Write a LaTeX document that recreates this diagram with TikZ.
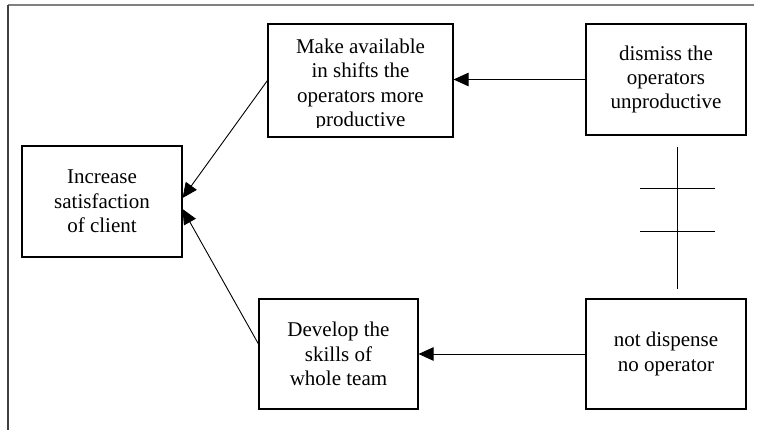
\documentclass[tikz,border=0pt]{standalone}
\usepackage{fontspec}
\setmainfont{Liberation Serif}
\usetikzlibrary{arrows.meta}
\begin{document}
\begin{tikzpicture}[x=1pt,y=-1pt,
  box/.style={draw=black,line width=1.1pt,rectangle,inner sep=0pt,
    align=center,font=\fontsize{21}{24.4}\selectfont},
  link/.style={draw=black,line width=0.9pt,
    -{Triangle[length=15pt,width=13.5pt]}},
  frameline/.style={line width=1.6pt},
  barline/.style={draw=black,line width=1pt}]
\useasboundingbox (0,0) rectangle (757,430);

% outer frame (top and left edges only)
\draw[frameline,draw=black!50] (8,5) -- (754,5);
\draw[frameline,draw=black!75] (8,5) -- (8,430);

% boxes
\node[box,minimum width=185pt,minimum height=113pt] (make) at (360.5,80.5) {};
\node[box,minimum width=160pt,minimum height=111pt] (dismiss) at (666,79.5)
  {dismiss the\\operators\\unproductive};
\node[box,minimum width=160pt,minimum height=111pt] (increase) at (102,201.5)
  {Increase\\satisfaction\\of client};
\node[box,minimum width=159pt,minimum height=110pt] (develop) at (338.5,354)
  {Develop the\\skills of\\whole team};
\node[box,minimum width=160pt,minimum height=110pt] (notdisp) at (666,354)
  {not dispense\\no operator};

% text of the first box, cut off at its lower edge
\begin{scope}
  \clip (269,25) rectangle (452,127.5);
  \node[font=\fontsize{21}{24.4}\selectfont,align=center,anchor=base,inner sep=0pt]
    (maketext) at (360.5,126.5)
    {Make available\\in shifts the\\operators more\\productive};
\end{scope}

% connectors
\draw[link] (dismiss.west) -- (dismiss.west -| make.east);
\draw[link] (make.west) -- ([yshift=3.5pt]increase.east);
\draw[link] ([yshift=10pt]develop.west) -- ([yshift=-7.5pt]increase.east);
\draw[link] (notdisp.west) -- (notdisp.west -| develop.east);

% incompatibility mark between the two right-hand boxes
\coordinate (vtop) at (677,147);
\coordinate (vbot) at (677,289);
\coordinate (bar1l) at (640,189);
\coordinate (bar1r) at (715,189);
\coordinate (bar2l) at (640,232);
\coordinate (bar2r) at (715,232);
\draw[barline] (vtop) -- (vbot);
\draw[barline] (bar1l) -- (bar1r);
\draw[barline] (bar2l) -- (bar2r);
\end{tikzpicture}
\end{document}
